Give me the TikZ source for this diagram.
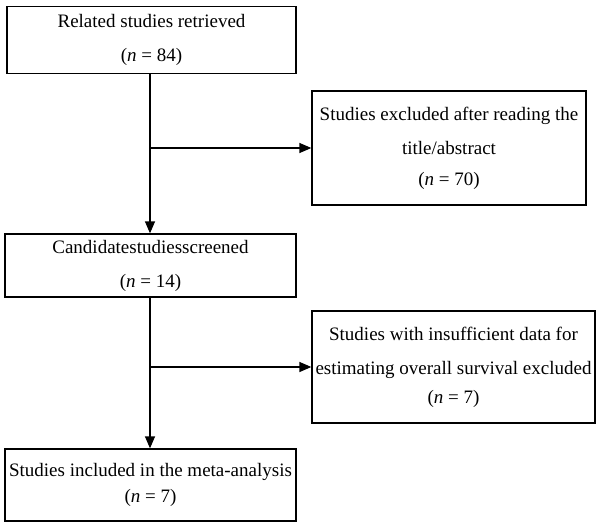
\documentclass[tikz,border=0pt]{standalone}
\usepackage{fontspec}
\setmainfont{Liberation Serif}
\usepackage{tikz}
\usetikzlibrary{arrows.meta}

\tikzset{
	stagebox/.style={draw, line width=1.3pt, align=center, inner sep=0pt,
		font=\fontsize{19}{34}\selectfont},
	flow/.style={line width=1.3pt, -{Triangle[length=12pt,width=10pt]}}
}

\begin{document}
\begin{tikzpicture}[x=1pt, y=-1pt]
				\useasboundingbox (0,0) rectangle (600,527);
				\node[stagebox, minimum width=289pt, minimum height=67pt] (retrieved) at (151.5,40) {Related studies retrieved\\(\textit{n} = 84)};
				\node[stagebox, minimum width=274pt, minimum height=114pt] (excl1) at (449,148) {Studies excluded after reading the\\title/abstract\\[-3pt](\textit{n} = 70)};
				\node[stagebox, minimum width=291pt, minimum height=63pt] (screened) at (150.5,265.5) {Candidatestudiesscreened\\(\textit{n} = 14)};
				\node[stagebox, minimum width=283pt, minimum height=112pt] (excl2) at (453.5,367) {Studies with insufficient data for\\estimating overall survival excluded\\[-5pt](\textit{n} = 7)};
				\node[stagebox, minimum width=291pt, minimum height=72pt, font=\fontsize{19}{26}\selectfont] (included) at (150.5,485) {Studies included in the meta-analysis\\(\textit{n} = 7)};
				% main path
				\draw[flow] (retrieved.south -| 150,0) -- (screened.north -| 150,0);
				\draw[flow] (screened.south -| 150,0) -- (included.north -| 150,0);
				% exclusions
				\coordinate (cut1) at (150,148);
				\coordinate (cut2) at (150,367);
				\draw[flow] (cut1) -- (excl1.west);
				\draw[flow] (cut2) -- (excl2.west);

			\end{tikzpicture}
\end{document}
